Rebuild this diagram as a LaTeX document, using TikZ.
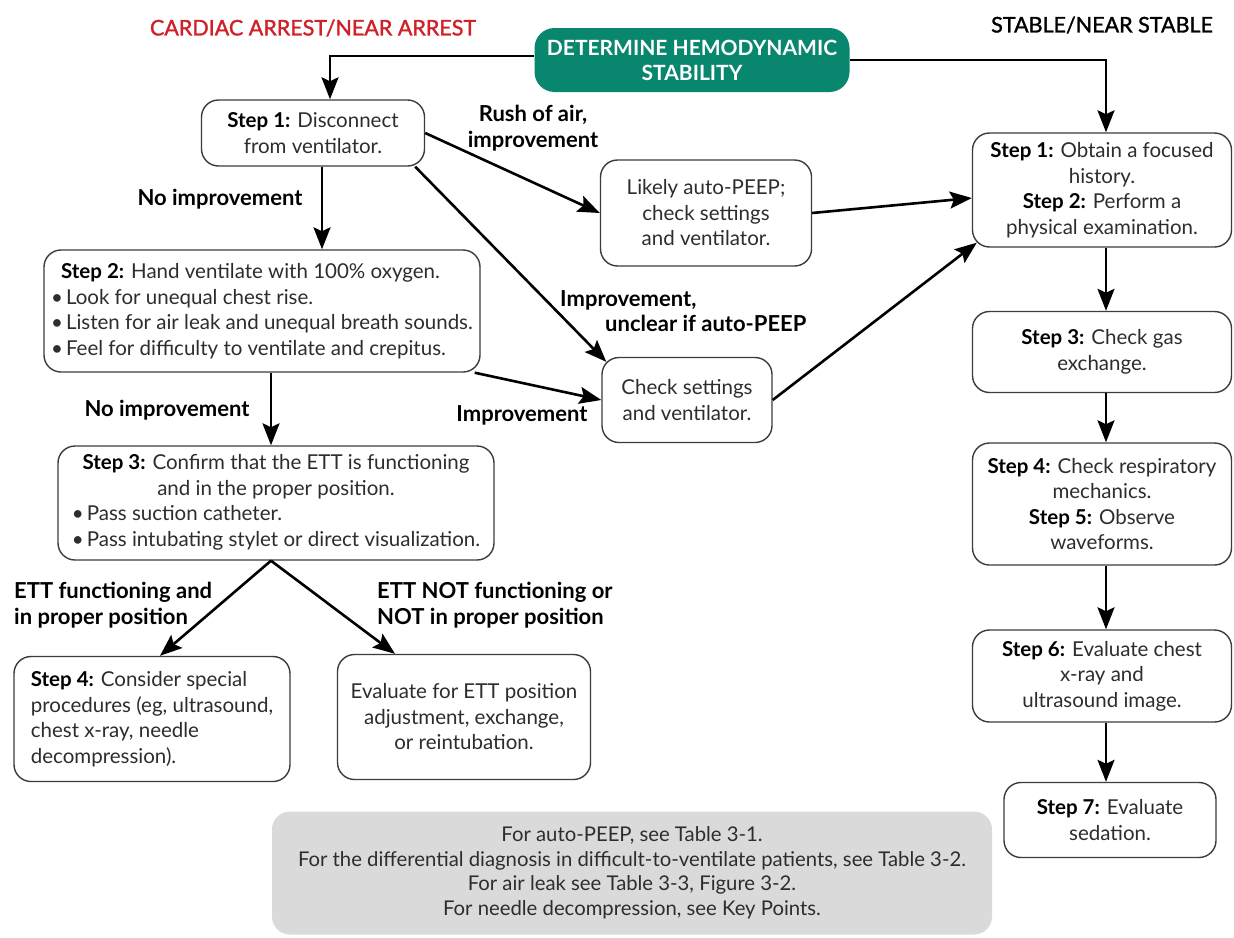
\documentclass[tikz,border=0pt]{standalone}
\usepackage{fontspec}
\setmainfont{Lato}
\newfontfamily\titlefont[FakeBold=1.4]{Lato}
\usetikzlibrary{arrows.meta}
\definecolor{tealbox}{RGB}{8,134,110}
\definecolor{redtitle}{RGB}{208,32,40}
\definecolor{txt}{RGB}{45,45,45}
\definecolor{bord}{RGB}{60,60,60}
\definecolor{notefill}{RGB}{218,218,218}
\newcommand{\bodyfont}{\fontsize{20.5}{25.5}\selectfont}
\newcommand{\lblfont}{\fontsize{22}{25.5}\selectfont\bfseries}
\newcommand{\StepLbl}[1]{{\color{black}\bfseries #1}}
\newcommand{\bul}{•\hspace{3pt}}
\tikzset{
  box/.style={draw=bord, line width=1.4pt, rounded corners=17pt, fill=white,
    align=center, inner sep=0pt, text=txt, font=\bodyfont},
  arr/.style={-{Stealth[length=22pt,width=17pt,inset=4pt]}, line width=2.6pt},
  lbl/.style={font=\lblfont, inner sep=0pt, align=center, text=black}
}
\begin{document}
\begin{tikzpicture}[x=1pt,y=-1pt]
\useasboundingbox (0,0) rectangle (1234,937);
\fill[white] (0,0) rectangle (1234,937);

% titles
\node[text=redtitle, font=\titlefont\fontsize{21.5}{24}\selectfont] (cardiac) at (313,28) {CARDIAC ARREST/NEAR ARREST};
\node[text=black, font=\titlefont\fontsize{21.5}{24}\selectfont] (stable) at (1102,25) {STABLE/NEAR STABLE};
\node[fill=tealbox, rounded corners=20pt, minimum width=315pt, minimum height=64pt,
  text=white, font=\fontsize{21}{25}\selectfont\bfseries, align=center, inner sep=0pt] (green) at (692,60)
  {DETERMINE HEMODYNAMIC\\STABILITY};

% left column
\node[box, minimum width=223pt, minimum height=66pt] (s1) at (313,133)
  {\StepLbl{Step 1:} Disconnect\\from ventilator.};
\node[box, minimum width=436pt, minimum height=122pt, align=left] (s2) at (262,311)
  {\hspace*{10pt}\StepLbl{Step 2:} Hand ventilate with 100\% oxygen.\\
   \bul Look for unequal chest rise.\\
   \bul Listen for air leak and unequal breath sounds.\\
   \bul Feel for difficulty to ventilate and crepitus.};
\node[box, minimum width=436pt, minimum height=114pt] (s3) at (276,503)
  {\begin{tabular}{@{}l@{}}
   \multicolumn{1}{@{}c@{}}{\StepLbl{Step 3:} Confirm that the ETT is functioning}\\
   \multicolumn{1}{@{}c@{}}{and in the proper position.}\\
   \bul Pass suction catheter.\\
   \bul Pass intubating stylet or direct visualization.
   \end{tabular}};
\node[box, minimum width=276pt, minimum height=125pt, align=left] (s4) at (152,719)
  {\StepLbl{Step 4:} Consider special\\procedures (eg, ultrasound,\\chest x-ray, needle\\decompression).};
\node[box, minimum width=253pt, minimum height=125pt] (ev) at (464,717)
  {Evaluate for ETT position\\adjustment, exchange,\\or reintubation.};

% middle
\node[box, minimum width=211pt, minimum height=106pt] (ap) at (706,213)
  {Likely auto-PEEP;\\check settings\\and ventilator.};
\node[box, minimum width=170pt, minimum height=85pt] (cs) at (687,400)
  {Check settings\\and ventilator.};

% right column
\node[box, minimum width=259pt, minimum height=114pt] (r1) at (1102,190)
  {\StepLbl{Step 1:} Obtain a focused\\history.\\\StepLbl{Step 2:} Perform a\\physical examination.};
\node[box, minimum width=259pt, minimum height=81pt] (r3) at (1102,352)
  {\StepLbl{Step 3:} Check gas\\exchange.};
\node[box, minimum width=259pt, minimum height=122pt] (r4) at (1102,504)
  {\StepLbl{Step 4:} Check respiratory\\mechanics.\\\StepLbl{Step 5:} Observe\\waveforms.};
\node[box, minimum width=259pt, minimum height=92pt] (r6) at (1102,676)
  {\StepLbl{Step 6:} Evaluate chest\\x-ray and\\ultrasound image.};
\node[box, minimum width=212pt, minimum height=75pt] (r7) at (1110,820)
  {\StepLbl{Step 7:} Evaluate\\sedation.};

% note
\node[fill=notefill, rounded corners=18pt, minimum width=720pt, minimum height=123pt,
  align=center, inner sep=0pt, text=txt, font=\fontsize{20.3}{24.5}\selectfont] (note) at (632,873)
  {For auto-PEEP, see Table 3-1.\\
   For the differential diagnosis in difficult-to-ventilate patients, see Table 3-2.\\
   For air leak see Table 3-3, Figure 3-2.\\
   For needle decompression, see Key Points.};

% labels
\node[lbl] (l1) at (220,199) {No improvement};
\node[lbl] (l2) at (533,128) {Rush of air,\\improvement};
\node[lbl, align=left, anchor=west] (l3) at (560,311) {Improvement,\\\hspace*{45pt}unclear if auto-PEEP};
\node[lbl] (l4) at (522,415) {Improvement};
\node[lbl] (l5) at (167,410) {No improvement};
\node[lbl, align=left, anchor=west] (l6) at (14,605) {ETT functioning and\\in proper position};
\node[lbl, align=left, anchor=west] (l7) at (377,605) {ETT NOT functioning or\\NOT in proper position};

% connectors
\draw[arr] ([yshift=4pt]green.west) -| ([xshift=17pt]s1.north);
\draw[arr] (green.east) -| ([xshift=4pt]r1.north);
\draw[arr] ([xshift=9pt]s1.south) -- ([xshift=60pt]s2.north);
\draw[arr] (s1.east) -- (ap.west);
\draw[arr] ([xshift=-10pt]s1.south east) -- ([xshift=5pt,yshift=-5pt]cs.north west);
\draw[arr] ([xshift=-6pt]s2.south east) -- (cs.west);
\draw[arr] (ap.east) -- ([yshift=-8pt]r1.west);
\draw[arr] (cs.east) -- ([xshift=5pt,yshift=5pt]r1.south west);
\draw[arr] ([xshift=9pt]s2.south) -- ([xshift=-5pt]s3.north);
\draw[arr] ([xshift=-5pt]s3.south) -- ([xshift=8pt]s4.north);
\draw[arr] ([xshift=-5pt]s3.south) -- ([xshift=-69pt]ev.north);
\draw[arr] ([xshift=4pt]r1.south) -- ([xshift=4pt]r3.north);
\draw[arr] ([xshift=4pt]r3.south) -- ([xshift=4pt]r4.north);
\draw[arr] ([xshift=4pt]r4.south) -- ([xshift=4pt]r6.north);
\draw[arr] ([xshift=4pt]r6.south) -- ([xshift=-4pt]r7.north);
\end{tikzpicture}
\end{document}
